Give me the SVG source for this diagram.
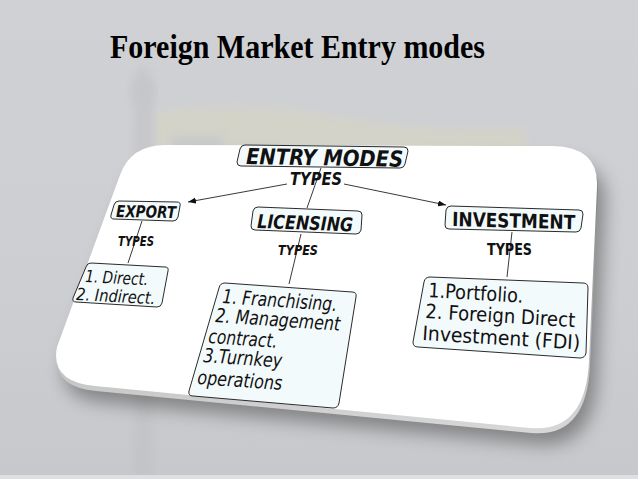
<svg xmlns="http://www.w3.org/2000/svg" width="638" height="479" viewBox="0 0 638 479">
<defs>
<linearGradient id="bg" x1="0" y1="0" x2="0" y2="1">
<stop offset="0" stop-color="#d0d1d5"/>
<stop offset="0.6" stop-color="#cdced1"/>
<stop offset="1" stop-color="#c7c8cb"/>
</linearGradient>
<linearGradient id="rim" x1="0" y1="0" x2="0" y2="1">
<stop offset="0" stop-color="#7a7a7a"/>
<stop offset="1" stop-color="#d8d8d8"/>
</linearGradient>
<filter id="blur" x="-20%" y="-20%" width="140%" height="140%"><feGaussianBlur stdDeviation="9"/></filter>
<filter id="soft" x="-10%" y="-10%" width="120%" height="120%"><feGaussianBlur stdDeviation="4"/></filter>
<marker id="arr" markerWidth="9" markerHeight="7" refX="8" refY="3" orient="auto" markerUnits="userSpaceOnUse">
<path d="M0,0 L8,3 L0,6 Z" fill="#111"/>
</marker>
<path id="card" d="M165,145 L553,146 Q599,147 597,187 L589,360 Q586,433 530,428 L95,386 Q50,382 57,347 L120,175 Q131,145 165,145 Z"/>
</defs>
<style>
.box{fill:#f3fafc;stroke:#2a2a2a;stroke-width:1}
.conn{stroke:#222;stroke-width:0.9;fill:none}
.bi{font-family:"DejaVu Sans",Verdana,sans-serif;font-weight:bold;font-style:italic;fill:#111}
.b{font-family:"DejaVu Sans",Verdana,sans-serif;font-weight:bold;fill:#111}
.it{font-family:"DejaVu Sans",Verdana,sans-serif;font-style:italic;fill:#111}
.r{font-family:"DejaVu Sans",Verdana,sans-serif;fill:#111}
</style>

<!-- background -->
<rect x="0" y="0" width="638" height="479" fill="url(#bg)"/>
<g opacity="0.4" filter="url(#soft)">
<path d="M156,112 Q260,100 340,118 Q430,134 525,128 L525,200 Q430,206 340,190 Q260,176 156,186 Z" fill="#dcd8b8"/>
<rect x="172" y="136" width="52" height="28" fill="#b9c4bd"/>
</g>
<g opacity="0.5" filter="url(#soft)">
<rect x="134" y="100" width="19" height="379" fill="#c0c0c3"/>
<ellipse cx="143" cy="92" rx="13" ry="20" fill="#bdbdc0"/>
<ellipse cx="143" cy="70" rx="4" ry="5" fill="#bdbdc0"/>
</g>
<rect x="0" y="475" width="638" height="4" fill="#dedfe0"/>

<!-- title -->
<text x="110" y="58" font-family="'Liberation Serif','Times New Roman',serif" font-weight="bold" font-size="34" textLength="375" lengthAdjust="spacingAndGlyphs" fill="#000">Foreign Market Entry modes</text>

<!-- card -->
<use href="#card" transform="translate(8,16)" fill="#000" opacity="0.35" filter="url(#blur)"/>
<use href="#card" transform="translate(1,5)" fill="url(#rim)"/>
<use href="#card" fill="#ffffff"/>

<!-- connectors -->
<g id="connectors">
<line class="conn" x1="321" y1="168" x2="307" y2="208"/>
<line class="conn" x1="287" y1="184" x2="188" y2="202" marker-end="url(#arr)"/>
<line class="conn" x1="344" y1="184" x2="446" y2="205" marker-end="url(#arr)"/>
<line class="conn" x1="142" y1="221" x2="128" y2="263"/>
<line class="conn" x1="301" y1="234" x2="289" y2="284"/>
<line class="conn" x1="512" y1="232" x2="507" y2="277"/>
<text class="bi" x="290" y="185" font-size="17" textLength="52" lengthAdjust="spacingAndGlyphs">TYPES</text>
<text class="bi" x="118" y="246" font-size="14" textLength="36" lengthAdjust="spacingAndGlyphs">TYPES</text>
<text class="bi" x="278" y="255" font-size="14.5" textLength="40" lengthAdjust="spacingAndGlyphs">TYPES</text>
<text class="b" x="487" y="255" font-size="15" textLength="45" lengthAdjust="spacingAndGlyphs">TYPES</text>
</g>

<g id="entry-modes">
<path class="box" d="M245,145 L404,147 Q408,147 408,151 L405,164 Q404,168 400,168 L241,166 Q237,166 237,162 L240,149 Q241,145 245,145 Z"/>
<text class="bi" x="246" y="164" font-size="22" textLength="157" lengthAdjust="spacingAndGlyphs" transform="rotate(1 246 164)">ENTRY MODES</text>
</g>

<g id="export">
<path class="box" d="M119,201 L177,202 Q181,202 180,206 L178,217 Q177,221 173,221 L114,219 Q110,219 111,215 L114,205 Q115,201 119,201 Z"/>
<text class="bi" x="116" y="217" font-size="16.5" textLength="60" lengthAdjust="spacingAndGlyphs" transform="rotate(1 116 217)">EXPORT</text>
</g>

<g id="export-types">
<path class="box" d="M91,263 L165,267 Q169,267 168,271 L162,303 Q161,307 157,307 L76,302 Q72,302 73,298 L86,267 Q87,263 91,263 Z"/>
<text class="it" x="85" y="282" font-size="17" textLength="63" lengthAdjust="spacingAndGlyphs" transform="rotate(3 85 282)">1. Direct.</text>
<text class="it" x="76" y="300" font-size="17" textLength="79" lengthAdjust="spacingAndGlyphs" transform="rotate(3 76 300)">2. Indirect.</text>
</g>

<g id="licensing">
<path class="box" d="M258,207 L358,211 Q362,211 362,215 L361,230 Q360,234 356,234 L255,230 Q251,230 251,226 L253,211 Q254,207 258,207 Z"/>
<text class="bi" x="257" y="228" font-size="19" textLength="96" lengthAdjust="spacingAndGlyphs" transform="rotate(2 257 228)">LICENSING</text>
</g>

<g id="licensing-types">
<path class="box" d="M225,283 L352,292 Q357,292 356,297 L339,403 Q338,408 333,408 L193,396 Q188,396 189,391 L219,288 Q220,283 225,283 Z"/>
<text class="it" x="222" y="303" font-size="19.5" textLength="115" lengthAdjust="spacingAndGlyphs" transform="rotate(4 222 303)">1. Franchising.</text>
<text class="it" x="215" y="322" font-size="19.5" textLength="125" lengthAdjust="spacingAndGlyphs" transform="rotate(4 215 322)">2. Management</text>
<text class="it" x="208" y="343" font-size="19.5" textLength="69" lengthAdjust="spacingAndGlyphs" transform="rotate(4 208 343)">contract.</text>
<text class="it" x="203" y="362" font-size="19.5" textLength="79" lengthAdjust="spacingAndGlyphs" transform="rotate(4 203 362)">3.Turnkey</text>
<text class="it" x="197" y="384" font-size="19.5" textLength="85" lengthAdjust="spacingAndGlyphs" transform="rotate(4 197 384)">operations</text>
</g>

<g id="investment">
<path class="box" d="M451,206 L579,210 Q583,210 583,214 L581,228 Q580,232 576,232 L449,229 Q445,229 445,225 L446,210 Q447,206 451,206 Z"/>
<text class="b" x="452" y="226" font-size="19.5" textLength="123" lengthAdjust="spacingAndGlyphs" transform="rotate(1.5 452 226)">INVESTMENT</text>
</g>

<g id="investment-types">
<path class="box" d="M430,277 L583,283 Q588,283 588,288 L586,353 Q585,358 580,358 L418,347 Q413,347 413,342 L424,282 Q425,277 430,277 Z"/>
<text class="r" x="428" y="297" font-size="20" textLength="95" lengthAdjust="spacingAndGlyphs" transform="rotate(3.5 428 297)">1.Portfolio.</text>
<text class="r" x="425" y="318" font-size="20" textLength="150" lengthAdjust="spacingAndGlyphs" transform="rotate(3.5 425 318)">2. Foreign Direct</text>
<text class="r" x="422" y="340" font-size="20" textLength="158" lengthAdjust="spacingAndGlyphs" transform="rotate(3.5 422 340)">Investment (FDI)</text>
</g>
</svg>
